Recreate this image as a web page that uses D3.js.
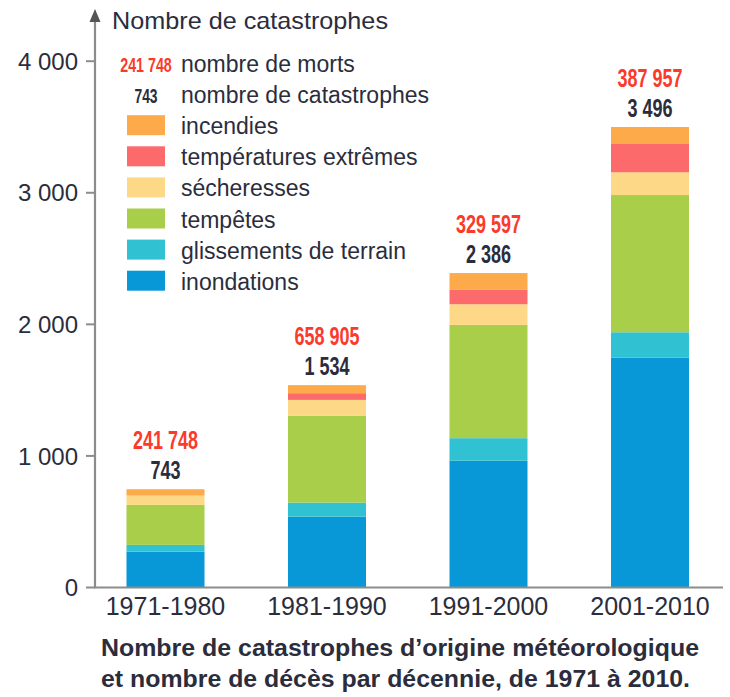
<!DOCTYPE html>
<html><head><meta charset="utf-8">
<script src="https://cdn.jsdelivr.net/npm/d3@7"></script>
<style>
html,body{margin:0;padding:0;background:#fff;}
svg{display:block;}
text{font-family:"Liberation Sans",Arial,sans-serif;}
.num{font-family:"Liberation Sans",Arial,sans-serif;font-weight:bold;}
</style></head>
<body>
<svg id="chart" width="730" height="697"></svg>
<script>
const decades = ["1971-1980","1981-1990","1991-2000","2001-2010"];
const morts = [241748, 658905, 329597, 387957];
const totals = [743, 1534, 2386, 3496];
const inondations = [269, 535, 960, 1743];
const glissements = [51, 106, 171, 193];
const tempetes = [304, 659, 861, 1043];
const secheresses = [71, 122, 157, 173];
const temperatures = [0, 51, 109, 220];
const incendies = [48, 61, 128, 124];
const seriesNames = ["inondations","glissements de terrain","tempêtes","sécheresses","températures extrêmes","incendies"];
const seriesValues = [inondations, glissements, tempetes, secheresses, temperatures, incendies];
const seriesColors = ["#0898d8","#30c2d2","#a8ce4a","#fdd987","#fd6a6c","#fcaa4a"];
const yTicks = [0, 1000, 2000, 3000, 4000];
const yTitle = "Nombre de catastrophes";
const caption = ["Nombre de catastrophes d’origine météorologique", "et nombre de décès par décennie, de 1971 à 2010."];

const loc = d3.formatLocale({decimal:",", thousands:" ", grouping:[3], currency:["","€"]});
const fmt = loc.format(",d");

const svg = d3.select("#chart");
const textCol = "#2b2d3c", redCol = "#fb3a2c", axisCol = "#8c8c8c";

const y = d3.scaleLinear().domain([0, 4000]).range([587, 60.7]);
const x = d3.scaleBand().domain(decades).range([95, 720.5]).paddingInner(0.517).paddingOuter(0.195);

// stacked data
const rows = decades.map((d, i) => {
  const o = {decade: d};
  seriesNames.forEach((s, j) => o[s] = seriesValues[j][i]);
  return o;
});
const stack = d3.stack().keys(seriesNames)(rows);

svg.append("g").selectAll("g").data(stack).join("g")
  .attr("fill", (d, i) => seriesColors[i])
  .selectAll("rect").data(d => d).join("rect")
  .attr("x", d => x(d.data.decade))
  .attr("width", x.bandwidth())
  .attr("y", d => y(d[1]))
  .attr("height", d => y(d[0]) - y(d[1]));

// y axis
const yAxis = d3.axisLeft(y).tickValues(yTicks).tickFormat(fmt).tickSize(9).tickPadding(8);
const gy = svg.append("g").attr("transform", "translate(95,0)").call(yAxis);
gy.select(".domain").remove();
gy.selectAll(".tick line").attr("stroke", axisCol).attr("stroke-width", 2);
gy.selectAll(".tick text").attr("fill", textCol).attr("font-size", 24).attr("font-family", "'Liberation Sans',Arial,sans-serif").attr("dy", "0.36em");

// axis lines
svg.append("line").attr("x1", 95).attr("x2", 95).attr("y1", 588).attr("y2", 18).attr("stroke", axisCol).attr("stroke-width", 2.2);
svg.append("path").attr("d", "M95,9 L89.5,22 L100.5,22 Z").attr("fill", "#555");
svg.append("line").attr("x1", 94).attr("x2", 723).attr("y1", 587.5).attr("y2", 587.5).attr("stroke", axisCol).attr("stroke-width", 2.2);

svg.append("text").attr("x", 112).attr("y", 28.5).attr("font-size", 24)
  .attr("textLength", 276).attr("lengthAdjust", "spacingAndGlyphs").attr("fill", textCol).text(yTitle);

// x labels
const gx = svg.append("g").attr("transform", "translate(0,587)").call(d3.axisBottom(x).tickSize(0).tickPadding(10));
gx.select(".domain").remove();
gx.selectAll(".tick text").attr("fill", textCol).attr("font-size", 25).attr("font-family", "'Liberation Sans',Arial,sans-serif").attr("dy", "0.71em");

// condensed number helper
function numText(g, cx, by, size, sx, col, str) {
  g.append("text").attr("class", "num")
    .attr("transform", `translate(${cx},${by}) scale(${sx},1)`)
    .attr("text-anchor", "middle").attr("font-size", size).attr("fill", col).text(str);
}

// value labels
const lab = svg.append("g");
decades.forEach((d, i) => {
  const cx = x(d) + x.bandwidth() / 2;
  const top = y(totals[i]);
  numText(lab, cx, top - 10, 25, 0.72, textCol, fmt(totals[i]));
  numText(lab, cx, top - 40, 25, 0.72, redCol, fmt(morts[i]));
});

// legend
const leg = svg.append("g");
const lx = 146, tx = 181, base0 = 72, step = 31.1;
numText(leg, lx, base0, 21, 0.68, redCol, fmt(morts[0]));
leg.append("text").attr("x", tx).attr("y", base0).attr("font-size", 23).attr("fill", textCol).text("nombre de morts");
numText(leg, lx, base0 + step, 21, 0.66, textCol, fmt(totals[0]));
leg.append("text").attr("x", tx).attr("y", base0 + step).attr("font-size", 23).attr("fill", textCol).text("nombre de catastrophes");
const legOrder = seriesNames.map((n, i) => i).reverse();
legOrder.forEach((si, k) => {
  const b = base0 + step * (k + 2);
  leg.append("rect").attr("x", 127).attr("y", b - 19).attr("width", 38).attr("height", 20).attr("fill", seriesColors[si]);
  leg.append("text").attr("x", tx).attr("y", b).attr("font-size", 23).attr("fill", textCol).text(seriesNames[si]);
});

// caption
svg.append("text").attr("x", 101).attr("y", 656).attr("font-size", 23).attr("font-weight", "bold")
  .attr("textLength", 598).attr("lengthAdjust", "spacingAndGlyphs").attr("fill", textCol).text(caption[0]);
svg.append("text").attr("x", 101).attr("y", 687).attr("font-size", 23).attr("font-weight", "bold")
  .attr("textLength", 589).attr("lengthAdjust", "spacingAndGlyphs").attr("fill", textCol).text(caption[1]);
</script>
</body></html>
